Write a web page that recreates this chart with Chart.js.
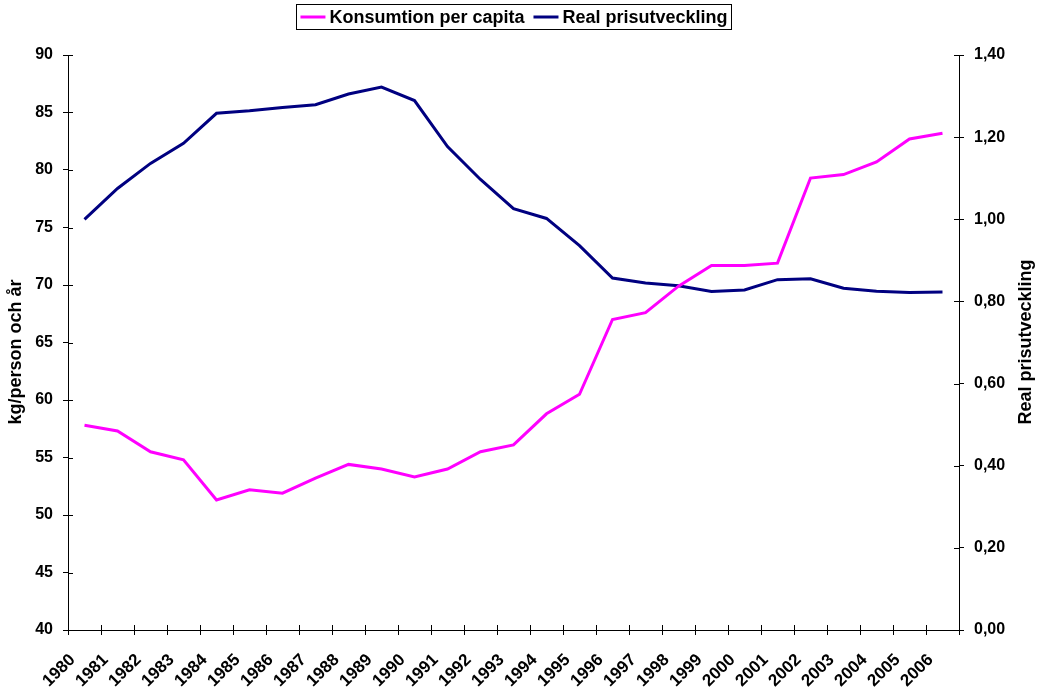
<!DOCTYPE html>
<html>
<head>
<meta charset="utf-8">
<script src="https://cdn.jsdelivr.net/npm/chart.js@4.4.0/dist/chart.umd.min.js"></script>
<style>
html,body{margin:0;padding:0;background:#fff;}
canvas{display:block;}
</style>
</head>
<body>
<canvas id="c" width="1037" height="690"></canvas>
<script>
const years = ['1980','1981','1982','1983','1984','1985','1986','1987','1988','1989','1990','1991','1992','1993','1994','1995','1996','1997','1998','1999','2000','2001','2002','2003','2004','2005','2006'];
const consumption = [57.8, 57.3, 55.5, 54.8, 51.3, 52.2, 51.9, 53.2, 54.4, 54.0, 53.3, 54.0, 55.5, 56.1, 58.8, 60.5, 67.0, 67.6, 69.9, 71.7, 71.7, 71.9, 79.3, 79.6, 80.7, 82.7, 83.2];
const realPrice = [1.000, 1.075, 1.136, 1.185, 1.258, 1.264, 1.272, 1.279, 1.305, 1.322, 1.289, 1.177, 1.097, 1.026, 1.002, 0.936, 0.857, 0.845, 0.838, 0.824, 0.828, 0.853, 0.855, 0.832, 0.825, 0.822, 0.823];
const seriesNames = ['Konsumtion per capita', 'Real prisutveckling'];
const axisTitles = ['kg/person och år', 'Real prisutveckling'];

const FONT = "'Liberation Sans', Arial, sans-serif";

const extras = {
  id: 'extras',
  afterDraw(chart) {
    const ctx = chart.ctx;
    const area = chart.chartArea;
    ctx.save();
    ctx.strokeStyle = '#000';
    ctx.lineWidth = 1;
    const y = chart.scales.y, y1 = chart.scales.y1;
    ctx.beginPath();
    const rx = Math.round(area.right) + 0.5;
    ctx.moveTo(rx, area.top); ctx.lineTo(rx, area.bottom);
    y.ticks.forEach(t => { const p = Math.round(y.getPixelForValue(t.value)) + 0.5; ctx.moveTo(area.left, p); ctx.lineTo(area.left + 5, p); });
    y1.ticks.forEach(t => { const p = Math.round(y1.getPixelForValue(t.value)) + 0.5; ctx.moveTo(area.right, p); ctx.lineTo(area.right - 5, p); });
    const n = years.length;
    for (let i = 0; i <= n; i++) {
      const p = Math.round(area.left + i * (area.right - area.left) / n) + 0.5;
      ctx.moveTo(p, area.bottom); ctx.lineTo(p, area.bottom - 5);
    }
    ctx.stroke();

    ctx.fillStyle = '#000';
    ctx.font = 'bold 18px ' + FONT;
    ctx.textAlign = 'center';
    ctx.textBaseline = 'middle';
    ctx.save(); ctx.translate(16, 352); ctx.rotate(-Math.PI / 2); ctx.fillText(axisTitles[0], 0, 0); ctx.restore();
    ctx.save(); ctx.translate(1026, 342); ctx.rotate(-Math.PI / 2); ctx.fillText(axisTitles[1], 0, 0); ctx.restore();

    ctx.font = 'bold 18px ' + FONT;
    ctx.textAlign = 'left';
    const ds = chart.data.datasets;
    const lineW = 25, gapA = 4, gapB = 9, pad = 4;
    let total = pad;
    ds.forEach((d, i) => { total += lineW + gapA + ctx.measureText(d.label).width + (i < ds.length - 1 ? gapB : 0); });
    total += pad;
    const left = 514 - total / 2;
    const top = 4.5, h = 25;
    ctx.strokeStyle = '#000';
    ctx.lineWidth = 1;
    ctx.strokeRect(Math.round(left) + 0.5, top, Math.round(total), h);
    let cx = left + pad;
    const my = top + h / 2;
    ds.forEach((d, i) => {
      ctx.strokeStyle = d.borderColor;
      ctx.lineWidth = 3;
      ctx.beginPath(); ctx.moveTo(cx, my); ctx.lineTo(cx + lineW, my); ctx.stroke();
      cx += lineW + gapA;
      ctx.fillStyle = '#000';
      ctx.fillText(d.label, cx, my + 1);
      cx += ctx.measureText(d.label).width + gapB;
    });
    ctx.restore();
  }
};

new Chart(document.getElementById('c'), {
  type: 'line',
  data: {
    labels: years,
    datasets: [
      { label: seriesNames[0], data: consumption, yAxisID: 'y', borderColor: '#FF00FF', backgroundColor: '#FF00FF', borderWidth: 3, pointRadius: 0, tension: 0 },
      { label: seriesNames[1], data: realPrice, yAxisID: 'y1', borderColor: '#000080', backgroundColor: '#000080', borderWidth: 3, pointRadius: 0, tension: 0 }
    ]
  },
  options: {
    responsive: false,
    animation: false,
    devicePixelRatio: 1,
    layout: { padding: { top: 55, left: 0, right: 0, bottom: 0 } },
    plugins: { legend: { display: false }, tooltip: { enabled: false } },
    scales: {
      x: {
        type: 'category',
        offset: true,
        grid: { display: true, drawOnChartArea: false, offset: true, tickLength: 5, color: '#000' },
        border: { display: true, color: '#000', width: 1 },
        ticks: { autoSkip: false, minRotation: 45, maxRotation: 45, labelOffset: -12, padding: 15, color: '#000', font: { family: FONT, weight: 'bold', size: 17 } },
        afterFit(s) { s.height = 60; }
      },
      y: {
        position: 'left',
        min: 40, max: 90,
        grid: { display: true, drawOnChartArea: false, tickLength: 5, color: '#000' },
        border: { display: true, color: '#000', width: 1 },
        ticks: { stepSize: 5, padding: 10, color: '#000', font: { family: FONT, weight: 'bold', size: 16 } },
        afterFit(s) { s.width = 68; }
      },
      y1: {
        position: 'right',
        min: 0, max: 1.4,
        grid: { display: true, drawOnChartArea: false, tickLength: 5, color: '#000' },
        border: { display: true, color: '#000', width: 1 },
        ticks: { stepSize: 0.2, padding: 10, color: '#000', font: { family: FONT, weight: 'bold', size: 16 },
          callback: v => Number(v).toFixed(2).replace('.', ',') },
        afterFit(s) { s.width = 78; }
      }
    }
  },
  plugins: [extras]
});
</script>
</body>
</html>
